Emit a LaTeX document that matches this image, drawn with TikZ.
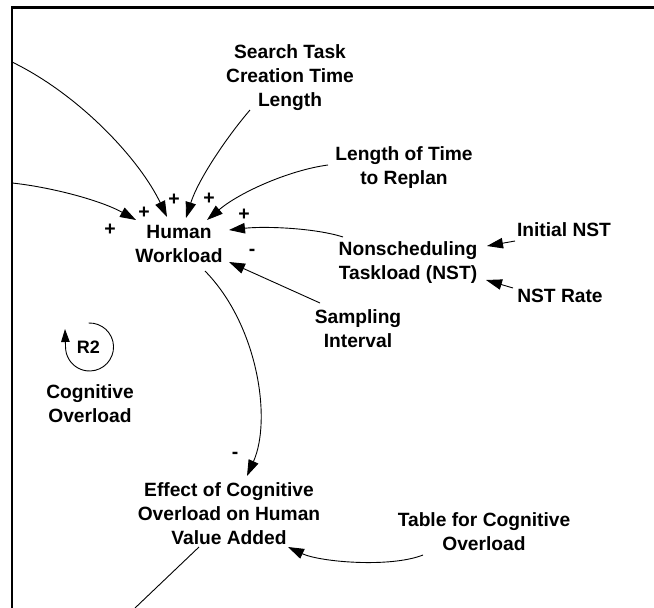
\documentclass[tikz,border=0pt]{standalone}
\usepackage{fontspec}
\setmainfont{Liberation Sans}
\usetikzlibrary{arrows.meta,calc}
\begin{document}
\begin{tikzpicture}[x=1pt,y=-1pt,
  lbl/.style={align=center,inner sep=0pt,font=\bfseries\fontsize{19.2}{24}\selectfont},
  sgn/.style={inner sep=0pt,font=\bfseries\fontsize{19.5}{24}\selectfont},
  loopname/.style={inner sep=0pt,font=\bfseries\fontsize{18}{20}\selectfont},
  link/.style={line width=0.9pt,-{Triangle[length=16pt,width=10.5pt]}},
  plain/.style={line width=0.9pt},
  frameline/.style={line width=2.5pt}]
\useasboundingbox (0,0) rectangle (654,608);

% frame (left and top edges only)
\draw[frameline] (12,608) -- (12,7.5) -- (654,7.5);

% variables
\node[lbl] (sst)  at (290,78)    {Search Task\\Creation Time\\Length};
\node[lbl] (hw)   at (179,244)   {Human\\Workload};
\node[lbl] (ltr)  at (404,167.5) {Length of Time\\to Replan};
\node[lbl] (nst)  at (408,262.5) {Nonscheduling\\Taskload (NST)};
\node[lbl] (init) at (564,230)   {Initial NST};
\node[lbl] (rate) at (560,296)   {NST Rate};
\node[lbl] (samp) at (358,329)   {Sampling\\Interval};
\node[lbl] (cog)  at (90,403.5)  {Cognitive\\Overload};
\node[lbl] (eff)  at (229,514)   {Effect of Cognitive\\Overload on Human\\Value Added};
\node[lbl] (tab)  at (484,532)   {Table for Cognitive\\Overload};

% loop marker
\node[loopname] (r2) at (88.5,347.5) {R2};
\draw[plain,-{Triangle[length=13pt,width=8.5pt]}]
  ($(r2)+(0.2,-24.5)$) arc[start angle=268,end angle=540,radius=24]
  -- ($(r2)+(-23.5,-18.5)$);

% free ends at the frame edges
\coordinate (w1) at (12,62);
\coordinate (w2) at (12,183);
\coordinate (s1) at (135,608);

% links into Human Workload
\draw[link] (w1) .. controls (80,95) and (140,160) .. ($(hw)+(-12,-27)$);
\draw[link] (w2) .. controls (50,187) and (100,200) .. ($(hw)+(-43,-24)$);
\draw[link] ($(sst)+(-40,32)$) .. controls (226,138) and (198,180) .. ($(hw)+(7,-26)$);
\draw[link] ($(ltr)+(-76,-2.5)$) .. controls (290,170) and (240,192) .. ($(hw)+(28,-24)$);
\draw[link] ($(nst)+(-65,-25.5)$) .. controls (315,228) and (265,226) .. ($(hw)+(50,-14)$);
\draw[link] ($(samp)+(-38,-26)$) -- ($(hw)+(50,18)$);

% links into Nonscheduling Taskload
\draw[link] ($(init)+(-49,11)$) -- ($(nst)+(79,-16.5)$);
\draw[link] ($(rate)+(-47,-8)$) -- ($(nst)+(78,17.5)$);

% links into the effect of cognitive overload
\draw[link] ($(hw)+(26,27)$) .. controls (258,325) and (272,420) .. ($(eff)+(18,-38)$);
\draw[link] ($(tab)+(-61,23)$) .. controls (390,568) and (320,562) .. ($(eff)+(59,33)$);
\draw[plain] ($(eff)+(-30,33)$) -- (s1);

% polarity signs
\node[sgn] (p1) at (110,230) {+};
\node[sgn] (p2) at (144,213) {+};
\node[sgn] (p3) at (174,200) {+};
\node[sgn] (p4) at (209,199) {+};
\node[sgn] (p5) at (244,215) {+};
\node[sgn] (m1) at (252,252) {-};
\node[sgn] (m2) at (235,455) {-};
\end{tikzpicture}
\end{document}
